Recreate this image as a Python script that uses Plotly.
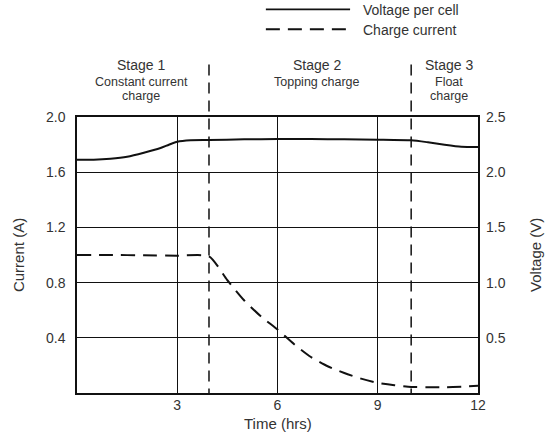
import plotly.graph_objects as go

# ---- data ----
time_v = [0, 0.5, 1, 1.5, 2, 2.5, 2.75, 3, 3.4, 3.95, 5, 6, 7, 8, 9, 10, 10.5, 11, 11.5, 12]
voltage = [2.112, 2.113, 2.122, 2.14, 2.176, 2.219, 2.249, 2.276, 2.289, 2.291, 2.298, 2.300,
           2.300, 2.298, 2.295, 2.289, 2.271, 2.249, 2.231, 2.228]

time_i = [0, 1, 2, 3, 3.95, 4.5, 5, 5.5, 6, 6.5, 7, 7.5, 8, 8.5, 9, 9.5, 10, 10.5, 11, 11.5, 12]
current = [1.0, 1.0, 0.998, 0.995, 0.99, 0.817, 0.672, 0.556, 0.46, 0.353, 0.261, 0.194, 0.145,
           0.104, 0.073, 0.056, 0.044, 0.042, 0.042, 0.045, 0.052]

stage_bounds = [3.95, 10]
stage_titles = ["Stage 1", "Stage 2", "Stage 3"]
stage_line1 = ["Constant current", "Topping charge", "Float"]
stage_line2 = ["charge", "", "charge"]
stage_centers = [1.93, 7.18, 11.12]

x_ticks = [3, 6, 9, 12]
y1_ticks = [0.4, 0.8, 1.2, 1.6, 2.0]
y1_labels = ["0.4", "0.8", "1.2", "1.6", "2.0"]
y2_ticks = [0.5, 1.0, 1.5, 2.0, 2.5]
y2_labels = ["0.5", "1.0", "1.5", "2.0", "2.5"]
X_MAX = 12

FONT = "Liberation Sans, Arial, sans-serif"
TXT = "#333333"
LINE = "#111111"

fig = go.Figure()
fig.add_trace(go.Scatter(x=time_i, y=current, mode="lines", name="Charge current",
                         line=dict(color=LINE, width=2, dash="14px,8px", shape="spline", smoothing=0.6),
                         yaxis="y", showlegend=False))
fig.add_trace(go.Scatter(x=time_v, y=voltage, mode="lines", name="Voltage per cell",
                         line=dict(color=LINE, width=2, shape="spline", smoothing=0.6),
                         yaxis="y2", showlegend=False))

# stage boundaries (dashed), extending above plot; drawn from the top down
for b in stage_bounds:
    fig.add_shape(type="line", xref="x domain", yref="paper",
                  x0=b / X_MAX, x1=b / X_MAX, y0=1.19, y1=0,
                  line=dict(color=LINE, width=1.5, dash="11px,7px"))

# stage labels
for c, t, s1, s2 in zip(stage_centers, stage_titles, stage_line1, stage_line2):
    for txt, yy, sz in [(t, 1.188, 14), (s1, 1.127, 12.5), (s2, 1.076, 12.5)]:
        if not txt:
            continue
        fig.add_annotation(x=c / X_MAX, xref="x domain", yref="paper", y=yy, text=txt,
                           showarrow=False, font=dict(family=FONT, size=sz, color=TXT),
                           xanchor="center", yanchor="middle")

# custom legend
leg = [("Voltage per cell", "solid", 1.390, 1.386), ("Charge current", "14px,8px", 1.318, 1.316)]
for name, dash, yy, ty in leg:
    fig.add_shape(type="line", xref="paper", yref="paper", x0=0.471, x1=0.681, y0=yy, y1=yy,
                  line=dict(color=LINE, width=1.8, dash=dash))
    fig.add_annotation(x=0.708, y=ty, xref="paper", yref="paper", text=name, showarrow=False,
                       xanchor="left", yanchor="middle", font=dict(family=FONT, size=14, color=TXT))

# axis titles
fig.add_annotation(x=-0.147, y=0.5, xref="paper", yref="paper", text="Current (A)", textangle=-90,
                   showarrow=False, xanchor="center", yanchor="middle",
                   font=dict(family=FONT, size=15, color=TXT))
fig.add_annotation(x=1.142, y=0.5, xref="paper", yref="paper", text="Voltage (V)", textangle=-90,
                   showarrow=False, xanchor="center", yanchor="middle",
                   font=dict(family=FONT, size=15, color=TXT))
fig.add_annotation(x=0.501, y=-0.109, xref="paper", yref="paper", text="Time (hrs)",
                   showarrow=False, xanchor="center", yanchor="middle",
                   font=dict(family=FONT, size=15, color=TXT))

fig.update_layout(
    width=556, height=436,
    margin=dict(l=77, r=78, t=117, b=43),
    paper_bgcolor="white", plot_bgcolor="white",
    font=dict(family=FONT, size=14, color=TXT),
    xaxis=dict(range=[0, X_MAX], tickvals=x_ticks, showgrid=True, gridcolor=LINE, gridwidth=1.3,
               zeroline=False, showline=True, linecolor=LINE, linewidth=1.5, mirror=True,
               ticks="", ticklabelstandoff=-2, automargin=False),
    yaxis=dict(range=[0, 2.0], tickvals=y1_ticks, ticktext=y1_labels, showgrid=True,
               gridcolor=LINE, gridwidth=1.3, zeroline=False, showline=True, linecolor=LINE,
               linewidth=1.5, mirror=True, ticks="", ticklabelstandoff=7, automargin=False),
    yaxis2=dict(range=[0, 2.5], tickvals=y2_ticks, ticktext=y2_labels, overlaying="y",
                side="right", showgrid=False, zeroline=False, ticks="", ticklabelstandoff=7,
                automargin=False),
)

# remove the default page margin so the figure sits at the window's top-left corner
fig.write_html("out.html", config={"displayModeBar": False},
               post_script="document.body.style.margin='0';")
